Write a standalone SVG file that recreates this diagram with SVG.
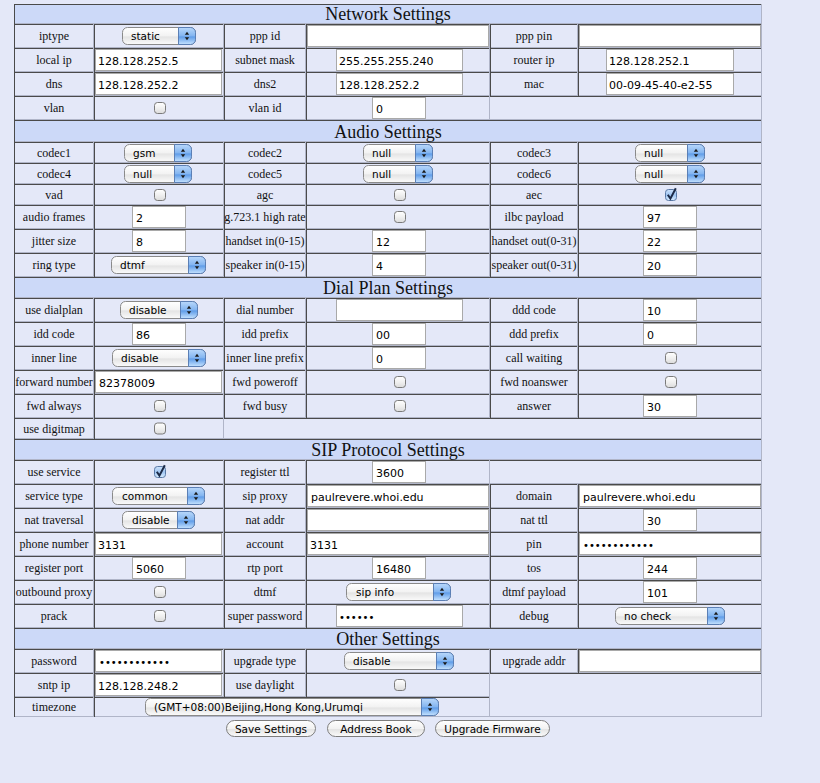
<svg xmlns="http://www.w3.org/2000/svg" xmlns:xlink="http://www.w3.org/1999/xlink" width="820" height="783" viewBox="0 0 820 783">
<defs>
<style>
.hd{fill:#ccd9f8}
.dk{fill:none;stroke:#4a4a4a;stroke-width:1}
.lt{fill:none;stroke:#b0b5c8;stroke-width:1}
.ht{font-family:"Liberation Serif",serif;font-size:18px;text-anchor:middle;fill:#111}
.lb{font-family:"Liberation Serif",serif;font-size:12px;text-anchor:middle;fill:#111}
.in{fill:#fff;stroke:#a9a9a9;stroke-width:1}
.it{font-family:"DejaVu Sans",sans-serif;font-size:11px;fill:#000}
.pw{font-family:"DejaVu Sans",sans-serif;font-size:10px;fill:#000}
.sb{fill:url(#gs);stroke:#8a8a8a;stroke-width:1}
.sbl{fill:url(#gb);stroke:#5b7fb5;stroke-width:1}
.st{font-family:"DejaVu Sans",sans-serif;font-size:10.5px;fill:#000}
.btn{fill:url(#gs);stroke:#7d7d7d;stroke-width:1}
.bt{font-family:"DejaVu Sans",sans-serif;font-size:10.5px;fill:#000;text-anchor:middle}
</style>
<linearGradient id="gs" x1="0" y1="0" x2="0" y2="1"><stop offset="0" stop-color="#ffffff"/><stop offset="0.5" stop-color="#f2f2f2"/><stop offset="0.55" stop-color="#e4e4e4"/><stop offset="1" stop-color="#fbfbfb"/></linearGradient>
<linearGradient id="gb" x1="0" y1="0" x2="0" y2="1"><stop offset="0" stop-color="#b9d8fb"/><stop offset="0.5" stop-color="#82b4f0"/><stop offset="0.55" stop-color="#5f9ce8"/><stop offset="1" stop-color="#c6e3ff"/></linearGradient>
<linearGradient id="gc" x1="0" y1="0" x2="0" y2="1"><stop offset="0" stop-color="#ffffff"/><stop offset="0.5" stop-color="#f0f0f0"/><stop offset="1" stop-color="#dcdcdc"/></linearGradient>
<linearGradient id="gck" x1="0" y1="0" x2="0" y2="1"><stop offset="0" stop-color="#cfe3fb"/><stop offset="0.5" stop-color="#9fc5f2"/><stop offset="1" stop-color="#d8ecff"/></linearGradient>
<g id="ar"><path d="M-2.2,-1.3 L0,-4.3 L2.2,-1.3Z M-2.2,1.3 L0,4.3 L2.2,1.3Z" fill="#1a1a1a"/></g>
<g id="cb"><rect x="0.5" y="0.5" width="11" height="11" rx="3" fill="url(#gc)" stroke="#7a7a7a"/></g>
<g id="cbk"><rect x="0.5" y="0.5" width="11" height="11" rx="3" fill="url(#gck)" stroke="#5a79a6"/><path d="M2.8,5.8 L5.4,9.6 L10.8,-0.8" fill="none" stroke="#1d2b48" stroke-width="2"/></g>
</defs>

<rect x="0" y="0" width="820" height="783" fill="#e4e8f8"/>

<g id="header-bands">
<rect class="hd" x="14" y="4" width="748" height="20"/>
<rect class="hd" x="14" y="120" width="748" height="22"/>
<rect class="hd" x="14" y="277" width="748" height="21"/>
<rect class="hd" x="14" y="439" width="748" height="21"/>
<rect class="hd" x="14" y="628" width="748" height="21"/>
</g>

<g id="grid">
<path class="dk" d="M14,4.5H762 M14,24.5H762 M14,48.5H762 M14,72.5H762 M14,96.5H762 M14,120.5H762 M14,142.5H762 M14,163.5H762 M14,184.5H762 M14,205.5H762 M14,229.5H762 M14,253.5H762 M14,277.5H762 M14,298.5H762 M14,322.5H762 M14,346.5H762 M14,370.5H762 M14,394.5H762 M14,418.5H762 M14,439.5H762 M14,460.5H762 M14,484.5H762 M14,508.5H762 M14,532.5H762 M14,556.5H762 M14,580.5H762 M14,604.5H762 M14,628.5H762 M14,649.5H762 M14,673.5H762 M14,697.5H490"/>
<path class="lt" d="M14,23.5H762 M14,47.5H762 M14,71.5H762 M14,95.5H762 M14,119.5H762 M14,141.5H762 M14,162.5H762 M14,183.5H762 M14,204.5H762 M14,228.5H762 M14,252.5H762 M14,276.5H762 M14,297.5H762 M14,321.5H762 M14,345.5H762 M14,369.5H762 M14,393.5H762 M14,417.5H762 M14,438.5H762 M14,459.5H762 M14,483.5H762 M14,507.5H762 M14,531.5H762 M14,555.5H762 M14,579.5H762 M14,603.5H762 M14,627.5H762 M14,648.5H762 M14,672.5H762 M14,696.5H490 M14,716.5H762"/>
<path class="dk" d="M14.5,4V717 M94.5,24V120 M94.5,142V277 M94.5,298V439 M94.5,460V628 M94.5,649V717 M224.5,24V120 M224.5,142V277 M224.5,298V418 M224.5,460V628 M224.5,649V697 M306.5,24V120 M306.5,142V277 M306.5,298V418 M306.5,460V628 M306.5,649V697 M490.5,24V96 M490.5,142V277 M490.5,298V418 M490.5,484V628 M490.5,649V673 M578.5,24V96 M578.5,142V277 M578.5,298V418 M578.5,484V628 M578.5,649V673"/>
<path class="lt" d="M761.5,4V717 M93.5,24V120 M93.5,142V277 M93.5,298V439 M93.5,460V628 M93.5,649V717 M223.5,24V120 M223.5,142V277 M223.5,298V439 M223.5,460V628 M223.5,649V697 M305.5,24V120 M305.5,142V277 M305.5,298V418 M305.5,460V628 M305.5,649V697 M489.5,24V120 M489.5,142V277 M489.5,298V418 M489.5,460V628 M489.5,649V717 M577.5,24V96 M577.5,142V277 M577.5,298V418 M577.5,484V628 M577.5,649V673"/>
</g>

<g id="network-settings">
<text class="ht" x="388" y="19.5">Network Settings</text>
<g id="row-iptype">
<text class="lb" x="54" y="40">iptype</text>
<rect class="sb" x="122.5" y="27.5" width="73" height="17" rx="5"/><path class="sbl" d="M178.5,27.5H190.5a5,5 0 0 1 5,5v7a5,5 0 0 1 -5,5H178.5Z"/><use xlink:href="#ar" x="187" y="36"/><text class="st" x="131" y="40">static</text>
<text class="lb" x="265" y="40">ppp id</text>
<rect class="in" x="307.5" y="25.5" width="181" height="21"/>
<text class="lb" x="534" y="40">ppp pin</text>
<rect class="in" x="579.5" y="25.5" width="181" height="21"/>
</g>
<g id="row-localip">
<text class="lb" x="54" y="64">local ip</text>
<rect class="in" x="95.5" y="49.5" width="126" height="21"/><text class="it" x="98" y="64.5">128.128.252.5</text>
<text class="lb" x="265" y="64">subnet mask</text>
<rect class="in" x="336.5" y="49.5" width="126" height="21"/><text class="it" x="339" y="64.5">255.255.255.240</text>
<text class="lb" x="534" y="64">router ip</text>
<rect class="in" x="606.5" y="49.5" width="127" height="21"/><text class="it" x="609" y="64.5">128.128.252.1</text>
</g>
<g id="row-dns">
<text class="lb" x="54" y="88">dns</text>
<rect class="in" x="95.5" y="73.5" width="126" height="21"/><text class="it" x="98" y="88.5">128.128.252.2</text>
<text class="lb" x="265" y="88">dns2</text>
<rect class="in" x="336.5" y="73.5" width="126" height="21"/><text class="it" x="339" y="88.5">128.128.252.2</text>
<text class="lb" x="534" y="88">mac</text>
<rect class="in" x="606.5" y="73.5" width="127" height="21"/><text class="it" x="609" y="88.5">00-09-45-40-e2-55</text>
</g>
<g id="row-vlan">
<text class="lb" x="54" y="112">vlan</text>
<use xlink:href="#cb" x="154" y="102"/>
<text class="lb" x="265" y="112">vlan id</text>
<rect class="in" x="372.5" y="97.5" width="53" height="21"/><text class="it" x="376" y="112.5">0</text>
</g>
</g>

<g id="audio-settings">
<text class="ht" x="388" y="137.5">Audio Settings</text>
<g id="row-codec1">
<text class="lb" x="54" y="156.5">codec1</text>
<rect class="sb" x="124.5" y="144.5" width="67" height="17" rx="5"/><path class="sbl" d="M174.5,144.5H186.5a5,5 0 0 1 5,5v7a5,5 0 0 1 -5,5H174.5Z"/><use xlink:href="#ar" x="183" y="153"/><text class="st" x="133" y="157">gsm</text>
<text class="lb" x="265" y="156.5">codec2</text>
<rect class="sb" x="363.5" y="144.5" width="69" height="17" rx="5"/><path class="sbl" d="M415.5,144.5H427.5a5,5 0 0 1 5,5v7a5,5 0 0 1 -5,5H415.5Z"/><use xlink:href="#ar" x="424" y="153"/><text class="st" x="372" y="157">null</text>
<text class="lb" x="534" y="156.5">codec3</text>
<rect class="sb" x="635.5" y="144.5" width="69" height="17" rx="5"/><path class="sbl" d="M687.5,144.5H699.5a5,5 0 0 1 5,5v7a5,5 0 0 1 -5,5H687.5Z"/><use xlink:href="#ar" x="696" y="153"/><text class="st" x="644" y="157">null</text>
</g>
<g id="row-codec4">
<text class="lb" x="54" y="177.5">codec4</text>
<rect class="sb" x="124.5" y="165.5" width="67" height="17" rx="5"/><path class="sbl" d="M174.5,165.5H186.5a5,5 0 0 1 5,5v7a5,5 0 0 1 -5,5H174.5Z"/><use xlink:href="#ar" x="183" y="174"/><text class="st" x="133" y="178">null</text>
<text class="lb" x="265" y="177.5">codec5</text>
<rect class="sb" x="363.5" y="165.5" width="69" height="17" rx="5"/><path class="sbl" d="M415.5,165.5H427.5a5,5 0 0 1 5,5v7a5,5 0 0 1 -5,5H415.5Z"/><use xlink:href="#ar" x="424" y="174"/><text class="st" x="372" y="178">null</text>
<text class="lb" x="534" y="177.5">codec6</text>
<rect class="sb" x="635.5" y="165.5" width="69" height="17" rx="5"/><path class="sbl" d="M687.5,165.5H699.5a5,5 0 0 1 5,5v7a5,5 0 0 1 -5,5H687.5Z"/><use xlink:href="#ar" x="696" y="174"/><text class="st" x="644" y="178">null</text>
</g>
<g id="row-vad">
<text class="lb" x="54" y="198.5">vad</text>
<use xlink:href="#cb" x="154" y="189"/>
<text class="lb" x="265" y="198.5">agc</text>
<use xlink:href="#cb" x="394" y="189"/>
<text class="lb" x="534" y="198.5">aec</text>
<use xlink:href="#cbk" x="665" y="189"/>
</g>
<g id="row-audioframes">
<text class="lb" x="54" y="221">audio frames</text>
<rect class="in" x="132.5" y="206.5" width="53" height="21"/><text class="it" x="136" y="221.5">2</text>
<text class="lb" x="265" y="221">g.723.1 high rate</text>
<use xlink:href="#cb" x="394" y="211"/>
<text class="lb" x="534" y="221">ilbc payload</text>
<rect class="in" x="643.5" y="206.5" width="53" height="21"/><text class="it" x="647" y="221.5">97</text>
</g>
<g id="row-jitter">
<text class="lb" x="54" y="245">jitter size</text>
<rect class="in" x="132.5" y="230.5" width="53" height="21"/><text class="it" x="136" y="245.5">8</text>
<text class="lb" x="265" y="245">handset in(0-15)</text>
<rect class="in" x="372.5" y="230.5" width="53" height="21"/><text class="it" x="376" y="245.5">12</text>
<text class="lb" x="534" y="245">handset out(0-31)</text>
<rect class="in" x="643.5" y="230.5" width="53" height="21"/><text class="it" x="647" y="245.5">22</text>
</g>
<g id="row-ringtype">
<text class="lb" x="54" y="269">ring type</text>
<rect class="sb" x="111.5" y="256.5" width="94" height="17" rx="5"/><path class="sbl" d="M188.5,256.5H200.5a5,5 0 0 1 5,5v7a5,5 0 0 1 -5,5H188.5Z"/><use xlink:href="#ar" x="197" y="265"/><text class="st" x="120" y="269">dtmf</text>
<text class="lb" x="265" y="269">speaker in(0-15)</text>
<rect class="in" x="372.5" y="254.5" width="53" height="21"/><text class="it" x="376" y="269.5">4</text>
<text class="lb" x="534" y="269">speaker out(0-31)</text>
<rect class="in" x="643.5" y="254.5" width="53" height="21"/><text class="it" x="647" y="269.5">20</text>
</g>
</g>

<g id="dialplan-settings">
<text class="ht" x="388" y="293.5">Dial Plan Settings</text>
<g id="row-usedialplan">
<text class="lb" x="54" y="314">use dialplan</text>
<rect class="sb" x="120.5" y="301.5" width="77" height="17" rx="5"/><path class="sbl" d="M180.5,301.5H192.5a5,5 0 0 1 5,5v7a5,5 0 0 1 -5,5H180.5Z"/><use xlink:href="#ar" x="189" y="310"/><text class="st" x="129" y="314">disable</text>
<text class="lb" x="265" y="314">dial number</text>
<rect class="in" x="336.5" y="299.5" width="126" height="21"/>
<text class="lb" x="534" y="314">ddd code</text>
<rect class="in" x="643.5" y="299.5" width="53" height="21"/><text class="it" x="647" y="314.5">10</text>
</g>
<g id="row-iddcode">
<text class="lb" x="54" y="338">idd code</text>
<rect class="in" x="132.5" y="323.5" width="53" height="21"/><text class="it" x="136" y="338.5">86</text>
<text class="lb" x="265" y="338">idd prefix</text>
<rect class="in" x="372.5" y="323.5" width="53" height="21"/><text class="it" x="376" y="338.5">00</text>
<text class="lb" x="534" y="338">ddd prefix</text>
<rect class="in" x="643.5" y="323.5" width="53" height="21"/><text class="it" x="647" y="338.5">0</text>
</g>
<g id="row-innerline">
<text class="lb" x="54" y="362">inner line</text>
<rect class="sb" x="112.5" y="349.5" width="93" height="17" rx="5"/><path class="sbl" d="M188.5,349.5H200.5a5,5 0 0 1 5,5v7a5,5 0 0 1 -5,5H188.5Z"/><use xlink:href="#ar" x="197" y="358"/><text class="st" x="121" y="362">disable</text>
<text class="lb" x="265" y="362">inner line prefix</text>
<rect class="in" x="372.5" y="347.5" width="53" height="21"/><text class="it" x="376" y="362.5">0</text>
<text class="lb" x="534" y="362">call waiting</text>
<use xlink:href="#cb" x="665" y="352"/>
</g>
<g id="row-forwardnumber">
<text class="lb" x="54" y="386">forward number</text>
<rect class="in" x="95.5" y="371.5" width="126" height="21"/><text class="it" x="99" y="386.5">82378009</text>
<text class="lb" x="265" y="386">fwd poweroff</text>
<use xlink:href="#cb" x="394" y="376"/>
<text class="lb" x="534" y="386">fwd noanswer</text>
<use xlink:href="#cb" x="665" y="376"/>
</g>
<g id="row-fwdalways">
<text class="lb" x="54" y="410">fwd always</text>
<use xlink:href="#cb" x="154" y="400"/>
<text class="lb" x="265" y="410">fwd busy</text>
<use xlink:href="#cb" x="394" y="400"/>
<text class="lb" x="534" y="410">answer</text>
<rect class="in" x="643.5" y="395.5" width="53" height="21"/><text class="it" x="647" y="410.5">30</text>
</g>
<g id="row-usedigitmap">
<text class="lb" x="54" y="432.5">use digitmap</text>
<use xlink:href="#cb" x="154" y="422.5"/>
</g>
</g>

<g id="sip-settings">
<text class="ht" x="388" y="455.5">SIP Protocol Settings</text>
<g id="row-useservice">
<text class="lb" x="54" y="476">use service</text>
<use xlink:href="#cbk" x="154" y="466"/>
<text class="lb" x="265" y="476">register ttl</text>
<rect class="in" x="372.5" y="461.5" width="53" height="21"/><text class="it" x="376" y="476.5">3600</text>
</g>
<g id="row-servicetype">
<text class="lb" x="54" y="500">service type</text>
<rect class="sb" x="112.5" y="487.5" width="92" height="17" rx="5"/><path class="sbl" d="M187.5,487.5H199.5a5,5 0 0 1 5,5v7a5,5 0 0 1 -5,5H187.5Z"/><use xlink:href="#ar" x="196" y="496"/><text class="st" x="122" y="500">common</text>
<text class="lb" x="265" y="500">sip proxy</text>
<rect class="in" x="307.5" y="485.5" width="181" height="21"/><text class="it" x="311" y="500.5">paulrevere.whoi.edu</text>
<text class="lb" x="534" y="500">domain</text>
<rect class="in" x="579.5" y="485.5" width="181" height="21"/><text class="it" x="583" y="500.5">paulrevere.whoi.edu</text>
</g>
<g id="row-nattraversal">
<text class="lb" x="54" y="524">nat traversal</text>
<rect class="sb" x="122.5" y="511.5" width="72" height="17" rx="5"/><path class="sbl" d="M177.5,511.5H189.5a5,5 0 0 1 5,5v7a5,5 0 0 1 -5,5H177.5Z"/><use xlink:href="#ar" x="186" y="520"/><text class="st" x="132" y="524">disable</text>
<text class="lb" x="265" y="524">nat addr</text>
<rect class="in" x="307.5" y="509.5" width="181" height="21"/>
<text class="lb" x="534" y="524">nat ttl</text>
<rect class="in" x="643.5" y="509.5" width="53" height="21"/><text class="it" x="647" y="524.5">30</text>
</g>
<g id="row-phonenumber">
<text class="lb" x="54" y="548">phone number</text>
<rect class="in" x="95.5" y="533.5" width="126" height="21"/><text class="it" x="98" y="548.5">3131</text>
<text class="lb" x="265" y="548">account</text>
<rect class="in" x="307.5" y="533.5" width="181" height="21"/><text class="it" x="310" y="548.5">3131</text>
<text class="lb" x="534" y="548">pin</text>
<rect class="in" x="579.5" y="533.5" width="181" height="21"/><text class="pw" x="583" y="548.5">••••••••••••</text>
</g>
<g id="row-registerport">
<text class="lb" x="54" y="572">register port</text>
<rect class="in" x="132.5" y="557.5" width="53" height="21"/><text class="it" x="136" y="572.5">5060</text>
<text class="lb" x="265" y="572">rtp port</text>
<rect class="in" x="372.5" y="557.5" width="53" height="21"/><text class="it" x="376" y="572.5">16480</text>
<text class="lb" x="534" y="572">tos</text>
<rect class="in" x="643.5" y="557.5" width="53" height="21"/><text class="it" x="647" y="572.5">244</text>
</g>
<g id="row-outboundproxy">
<text class="lb" x="54" y="596">outbound proxy</text>
<use xlink:href="#cb" x="154" y="586"/>
<text class="lb" x="265" y="596">dtmf</text>
<rect class="sb" x="346.5" y="583.5" width="104" height="17" rx="5"/><path class="sbl" d="M433.5,583.5H445.5a5,5 0 0 1 5,5v7a5,5 0 0 1 -5,5H433.5Z"/><use xlink:href="#ar" x="442" y="592"/><text class="st" x="356" y="596">sip info</text>
<text class="lb" x="534" y="596">dtmf payload</text>
<rect class="in" x="643.5" y="581.5" width="53" height="21"/><text class="it" x="647" y="596.5">101</text>
</g>
<g id="row-prack">
<text class="lb" x="54" y="620">prack</text>
<use xlink:href="#cb" x="154" y="610"/>
<text class="lb" x="265" y="620">super password</text>
<rect class="in" x="336.5" y="605.5" width="126" height="21"/><text class="pw" x="339" y="620.5">••••••</text>
<text class="lb" x="534" y="620">debug</text>
<rect class="sb" x="615.5" y="607.5" width="109" height="17" rx="5"/><path class="sbl" d="M707.5,607.5H719.5a5,5 0 0 1 5,5v7a5,5 0 0 1 -5,5H707.5Z"/><use xlink:href="#ar" x="716" y="616"/><text class="st" x="624" y="620">no check</text>
</g>
</g>

<g id="other-settings">
<text class="ht" x="388" y="644.5">Other Settings</text>
<g id="row-password">
<text class="lb" x="54" y="665">password</text>
<rect class="in" x="95.5" y="650.5" width="126" height="21"/><text class="pw" x="99" y="665.5">••••••••••••</text>
<text class="lb" x="265" y="665">upgrade type</text>
<rect class="sb" x="344.5" y="652.5" width="109" height="17" rx="5"/><path class="sbl" d="M436.5,652.5H448.5a5,5 0 0 1 5,5v7a5,5 0 0 1 -5,5H436.5Z"/><use xlink:href="#ar" x="445" y="661"/><text class="st" x="353" y="665">disable</text>
<text class="lb" x="534" y="665">upgrade addr</text>
<rect class="in" x="579.5" y="650.5" width="181" height="21"/>
</g>
<g id="row-sntpip">
<text class="lb" x="54" y="689">sntp ip</text>
<rect class="in" x="95.5" y="674.5" width="126" height="21"/><text class="it" x="98" y="689.5">128.128.248.2</text>
<text class="lb" x="265" y="689">use daylight</text>
<use xlink:href="#cb" x="394" y="679"/>
</g>
<g id="row-timezone">
<text class="lb" x="54" y="711">timezone</text>
<rect class="sb" x="145.5" y="698.5" width="293" height="17" rx="5"/><path class="sbl" d="M421.5,698.5H433.5a5,5 0 0 1 5,5v7a5,5 0 0 1 -5,5H421.5Z"/><use xlink:href="#ar" x="430" y="707"/><text class="st" x="154" y="711">(GMT+08:00)Beijing,Hong Kong,Urumqi</text>
</g>
</g>

<g id="buttons">
<g id="btn-save"><rect class="btn" x="226.5" y="720.5" width="89" height="16" rx="8"/><text class="bt" x="271" y="732.5">Save Settings</text></g>
<g id="btn-address"><rect class="btn" x="327.5" y="720.5" width="97" height="16" rx="8"/><text class="bt" x="376" y="732.5">Address Book</text></g>
<g id="btn-upgrade"><rect class="btn" x="435.5" y="720.5" width="114" height="16" rx="8"/><text class="bt" x="492.5" y="732.5">Upgrade Firmware</text></g>
</g>
</svg>
